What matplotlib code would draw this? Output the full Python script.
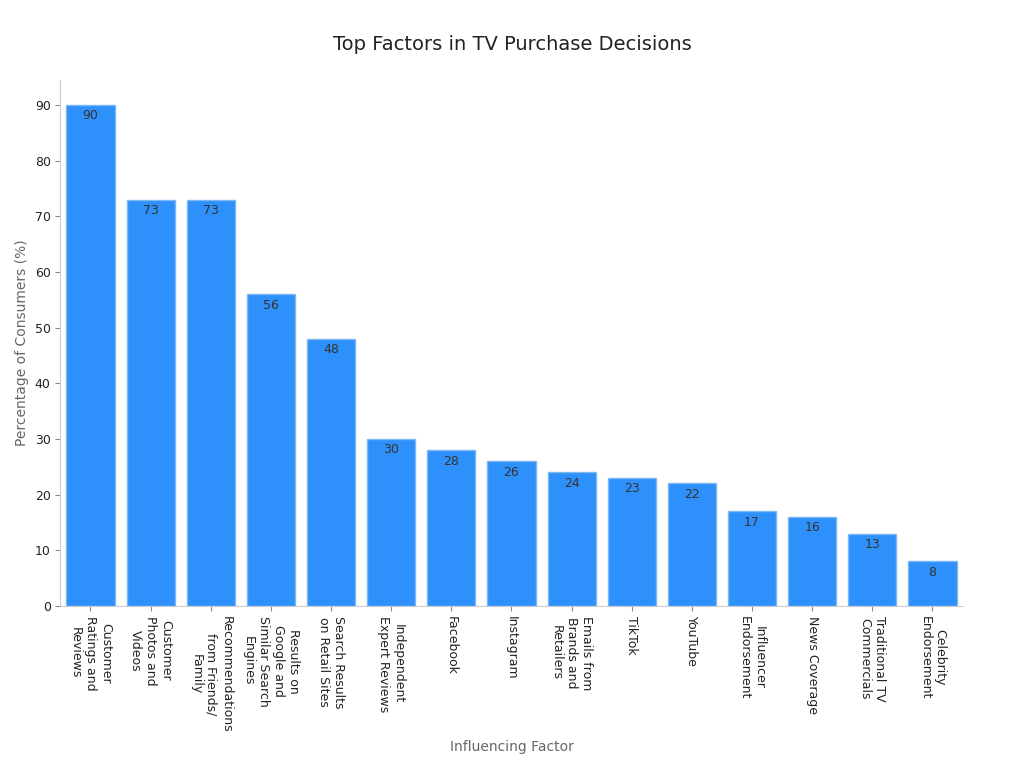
import matplotlib.pyplot as plt

factors = [
    "Customer\nRatings and\nReviews",
    "Customer\nPhotos and\nVideos",
    "Recommendations\nfrom Friends/\nFamily",
    "Results on\nGoogle and\nSimilar Search\nEngines",
    "Search Results\non Retail Sites",
    "Independent\nExpert Reviews",
    "Facebook",
    "Instagram",
    "Emails from\nBrands and\nRetailers",
    "TikTok",
    "YouTube",
    "Influencer\nEndorsement",
    "News Coverage",
    "Traditional TV\nCommercials",
    "Celebrity\nEndorsement",
]
percentages = [90, 73, 73, 56, 48, 30, 28, 26, 24, 23, 22, 17, 16, 13, 8]

fig = plt.figure(figsize=(10.24, 7.68), dpi=100)
ax = fig.add_axes([0.059, 0.211, 0.881, 0.685])

x = range(len(factors))
bars = ax.bar(x, percentages, width=0.8, color="#2E90FA", edgecolor="#7DB8F5", linewidth=1)
for b, v in zip(bars, percentages):
    ax.text(b.get_x() + b.get_width() / 2, v - 0.8, str(v), ha="center", va="top",
            fontsize=9, color="#333333")

ax.set_xlim(-0.5, len(factors) - 0.5)
ax.set_ylim(0, 94.5)
ax.set_yticks(range(0, 91, 10))
ax.set_xticks(list(x))
ax.set_xticklabels(factors, rotation=270, ha="center", va="top", fontsize=9,
                   color="#222222", rotation_mode="default")
ax.tick_params(axis="y", labelsize=9, colors="#222222")
ax.tick_params(axis="both", color="#888888")
for s in ("top", "right"):
    ax.spines[s].set_visible(False)
for s in ("left", "bottom"):
    ax.spines[s].set_color("#CCCCCC")

ax.set_ylabel("Percentage of Consumers (%)", fontsize=10, color="#666666")
fig.text(0.5, 0.022, "Influencing Factor", ha="center", fontsize=10, color="#666666")
fig.suptitle("Top Factors in TV Purchase Decisions", y=0.955, fontsize=14, color="#222222")

fig.savefig("out.png", dpi=100)
